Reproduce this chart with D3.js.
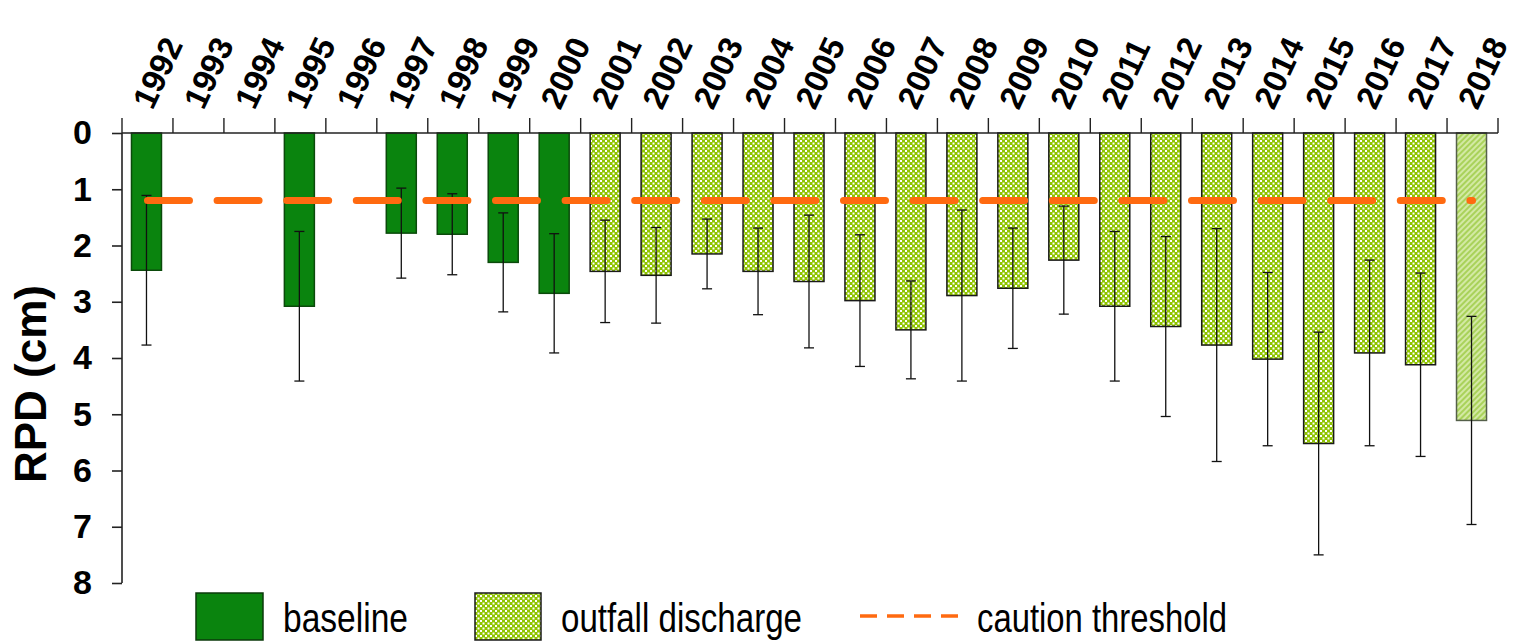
<!DOCTYPE html>
<html>
<head>
<meta charset="utf-8">
<script src="https://cdn.jsdelivr.net/npm/d3@7"></script>
<style>
  html, body { margin: 0; padding: 0; background: #ffffff; }
  svg { display: block; }
</style>
</head>
<body>
<svg id="chart" width="1518" height="644"></svg>
<script>
// Survey years (category axis along the top)
const years = ["1992","1993","1994","1995","1996","1997","1998","1999","2000",
  "2001","2002","2003","2004","2005","2006","2007","2008","2009","2010",
  "2011","2012","2013","2014","2015","2016","2017","2018"];

// Mean RPD (cm) per year; null = no survey that year
const rpdMean = [2.44,null,null,3.08,null,1.78,1.80,2.30,2.85,
  2.46,2.53,2.15,2.46,2.64,2.98,3.50,2.89,2.76,2.26,
  3.08,3.44,3.77,4.02,5.52,3.91,4.12,5.11];

// Standard deviation of RPD (cm) per year
const rpdSD = [1.33,null,null,1.33,null,0.80,0.72,0.88,1.06,
  0.91,0.85,0.62,0.77,1.18,1.17,0.87,1.52,1.07,0.96,
  1.33,1.60,2.07,1.54,1.98,1.65,1.63,1.85];

// Monitoring period for each year
const period = ["baseline","baseline","baseline","baseline","baseline","baseline","baseline","baseline","baseline",
  "outfall","outfall","outfall","outfall","outfall","outfall","outfall","outfall","outfall","outfall",
  "outfall","outfall","outfall","outfall","outfall","outfall","outfall","outfall"];

// Caution threshold for RPD (cm)
const cautionThreshold = 1.2;

// Y-axis ticks
const yTicks = [0,1,2,3,4,5,6,7,8];

// Legend entries
const legendLabels = ["baseline", "outfall discharge", "caution threshold"];

const rows = years.map((y, i) => ({ year: y, mean: rpdMean[i], sd: rpdSD[i], period: period[i] }));

const svg = d3.select("#chart");

const x = d3.scaleBand().domain(years).range([122, 1498]).paddingInner(0).paddingOuter(0);
const y = d3.scaleLinear().domain([0, 8]).range([133, 583]);

const defs = svg.append("defs");
// Checkered fill for outfall-discharge years
const pat = defs.append("pattern").attr("id", "checker")
  .attr("patternUnits", "userSpaceOnUse").attr("width", 5).attr("height", 5);
pat.append("rect").attr("width", 5).attr("height", 5).attr("fill", "#8fc400");
pat.append("rect").attr("x", 0).attr("y", 0).attr("width", 2).attr("height", 2).attr("fill", "#ffffff");
pat.append("rect").attr("x", 2.5).attr("y", 2.5).attr("width", 2).attr("height", 2).attr("fill", "#ffffff");

// Lighter diagonal fill for the latest year
const pat2 = defs.append("pattern").attr("id", "diag")
  .attr("patternUnits", "userSpaceOnUse").attr("width", 4).attr("height", 4)
  .attr("patternTransform", "rotate(45)");
pat2.append("rect").attr("width", 4).attr("height", 4).attr("fill", "#d3e9a4");
pat2.append("rect").attr("width", 2).attr("height", 4).attr("fill", "#a9d25a");

const barW = 30;
const cx = d => x(d.year) + x.bandwidth() / 2 - 1;

const data = rows.filter(d => d.mean != null);
const last = years[years.length - 1];

// Bars
svg.append("g").selectAll("rect").data(data).join("rect")
  .attr("x", d => cx(d) - barW / 2)
  .attr("y", y(0))
  .attr("width", barW)
  .attr("height", d => y(d.mean) - y(0))
  .attr("fill", d => d.period === "baseline" ? "#0a840e" : (d.year === last ? "url(#diag)" : "url(#checker)"))
  .attr("stroke", d => d.period === "baseline" ? "#0b4a0b" : (d.year === last ? "#55604a" : "#1a1a1a"))
  .attr("stroke-width", 1.5);

// Error bars (mean ± SD)
const eb = svg.append("g").attr("stroke", "#111").attr("stroke-width", 1.3);
data.forEach(d => {
  const x0 = cx(d);
  eb.append("line").attr("x1", x0).attr("x2", x0).attr("y1", y(d.mean - d.sd)).attr("y2", y(d.mean + d.sd));
  eb.append("line").attr("x1", x0 - 5).attr("x2", x0 + 5).attr("y1", y(d.mean - d.sd)).attr("y2", y(d.mean - d.sd));
  eb.append("line").attr("x1", x0 - 5).attr("x2", x0 + 5).attr("y1", y(d.mean + d.sd)).attr("y2", y(d.mean + d.sd));
});

// Caution threshold line
svg.append("line")
  .attr("x1", x(years[0]) + x.bandwidth() / 2)
  .attr("x2", x(last) + x.bandwidth() / 2)
  .attr("y1", y(cautionThreshold)).attr("y2", y(cautionThreshold))
  .attr("stroke", "#ff6a10").attr("stroke-width", 7)
  .attr("stroke-dasharray", "42 27.6").attr("stroke-linecap", "round");

// Y axis
const yAxis = svg.append("g").attr("transform", "translate(122,0)")
  .call(d3.axisLeft(y).tickValues(yTicks).tickSize(10).tickPadding(20).tickFormat(d3.format("d")));
yAxis.select(".domain").attr("stroke", "#222").attr("stroke-width", 1.6).attr("d", "M0," + y(0) + "V" + y(8));
yAxis.selectAll(".tick line").attr("stroke", "#222").attr("stroke-width", 1.6);
yAxis.selectAll(".tick text")
  .attr("font-family", "Liberation Sans, Arial, sans-serif")
  .attr("font-weight", "bold").attr("font-size", 34).attr("fill", "#000");

// Top category axis
const xAxis = svg.append("g").attr("transform", "translate(0," + y(0) + ")");
xAxis.append("line").attr("x1", 122).attr("x2", 1498).attr("y1", 0).attr("y2", 0)
  .attr("stroke", "#222").attr("stroke-width", 1.6);
const bounds = years.map(d => x(d)).concat([x(last) + x.bandwidth()]);
xAxis.selectAll("line.tk").data(bounds).join("line").attr("class", "tk")
  .attr("x1", d => d).attr("x2", d => d).attr("y1", 0).attr("y2", -15)
  .attr("stroke", "#222").attr("stroke-width", 1.4);

// Year labels, slanted
xAxis.selectAll("text").data(years).join("text")
  .attr("transform", d => "translate(" + (x(d) + x.bandwidth() / 2 + 5) + ",-22) rotate(-65)")
  .attr("font-family", "Liberation Sans, Arial, sans-serif")
  .attr("font-weight", "bold").attr("font-size", 33).attr("fill", "#000")
  .text(d => d);

// Y axis title
svg.append("text")
  .attr("transform", "translate(46,384) rotate(-90)")
  .attr("text-anchor", "middle")
  .attr("font-family", "Liberation Sans, Arial, sans-serif")
  .attr("font-weight", "bold").attr("font-size", 44).attr("fill", "#000")
  .text("RPD (cm)");

// Legend
const lg = svg.append("g");
const narrow = "Liberation Sans Narrow, Arial Narrow, Liberation Sans, sans-serif";
lg.append("rect").attr("x", 196).attr("y", 593).attr("width", 67).attr("height", 47)
  .attr("fill", "#0a840e").attr("stroke", "#0b3a0b").attr("stroke-width", 1.5);
lg.append("text").attr("x", 283).attr("y", 632).attr("font-family", narrow).attr("font-size", 40)
  .attr("textLength", 125).attr("lengthAdjust", "spacingAndGlyphs").text(legendLabels[0]);
lg.append("rect").attr("x", 475).attr("y", 593).attr("width", 66).attr("height", 47)
  .attr("fill", "url(#checker)").attr("stroke", "#1a1a1a").attr("stroke-width", 1.5);
lg.append("text").attr("x", 561).attr("y", 632).attr("font-family", narrow).attr("font-size", 40)
  .attr("textLength", 241).attr("lengthAdjust", "spacingAndGlyphs").text(legendLabels[1]);
lg.append("line").attr("x1", 860).attr("x2", 960).attr("y1", 616).attr("y2", 616)
  .attr("stroke", "#ff6a10").attr("stroke-width", 3.5).attr("stroke-dasharray", "17 10");
lg.append("text").attr("x", 977).attr("y", 632).attr("font-family", narrow).attr("font-size", 40)
  .attr("textLength", 250).attr("lengthAdjust", "spacingAndGlyphs").text(legendLabels[2]);
</script>
</body>
</html>
